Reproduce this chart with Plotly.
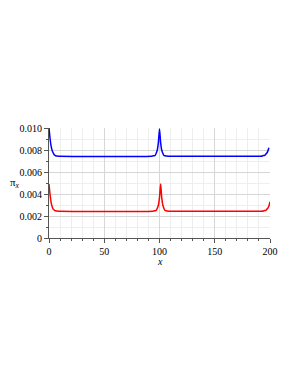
import plotly.graph_objects as go

# Blue series (upper)
blue_x = [0, 1, 2, 3, 4, 5, 6, 7, 9, 93, 95, 96, 97, 98, 99, 100, 101, 102, 103, 104, 105, 106, 108, 191, 193, 194, 195, 196, 197, 198, 199]
blue_y = [0.0100, 0.0090, 0.0083, 0.0079, 0.0077, 0.00755, 0.00748, 0.00745, 0.00744, 0.00744, 0.00748, 0.0075, 0.0077,
          0.0080, 0.0087, 0.0099, 0.0087, 0.0080, 0.0077, 0.0075, 0.00748, 0.00745, 0.00744, 0.00744, 0.00746, 0.0075,
          0.0075, 0.0076, 0.0077, 0.0079, 0.0082]

# Red series (lower)
red_x = [0, 1, 2, 3, 4, 5, 6, 7, 9, 94, 96, 97, 98, 99, 100, 101, 102, 103, 104, 105, 106, 107, 109, 192, 194, 195, 196, 197, 198, 199, 200]
red_y = [0.0049, 0.0039, 0.0032, 0.0028, 0.0026, 0.00252, 0.00248, 0.00245, 0.00244, 0.00244, 0.00248, 0.0025, 0.0027,
         0.0030, 0.0037, 0.0049, 0.0037, 0.0030, 0.0027, 0.0025, 0.00248, 0.00245, 0.00244, 0.00244, 0.00246, 0.0025,
         0.0025, 0.0026, 0.0027, 0.0029, 0.0033]

y_tickvals = [0, 0.002, 0.004, 0.006, 0.008, 0.010]
y_ticktext = ["0", "0.002", "0.004", "0.006", "0.008", "0.010"]
x_tickvals = [0, 50, 100, 150, 200]
x_ticktext = ["0", "50", "100", "150", "200"]

font_family = "Times New Roman, Liberation Serif, DejaVu Serif, serif"

fig = go.Figure()
fig.add_trace(go.Scatter(x=blue_x, y=blue_y, mode="lines", line_shape="spline",
                         line=dict(color="rgb(0,0,255)", width=1.5, smoothing=0.6), showlegend=False))
fig.add_trace(go.Scatter(x=red_x, y=red_y, mode="lines", line_shape="spline",
                         line=dict(color="rgb(255,0,0)", width=1.5, smoothing=0.6), showlegend=False))

fig.update_layout(
    width=290, height=377,
    margin=dict(l=41, r=28, t=120, b=147, autoexpand=False),
    paper_bgcolor="white", plot_bgcolor="white",
    font=dict(family=font_family, size=10, color="black"),
    xaxis=dict(
        range=[0, 200], tickvals=x_tickvals, ticktext=x_ticktext,
        showgrid=True, gridcolor="#d6d6d6", gridwidth=1,
        showline=True, linecolor="#555555", linewidth=1,
        ticks="outside", ticklen=4, tickcolor="#555555",
        zeroline=False, automargin=False,
        minor=dict(dtick=10, showgrid=True, gridcolor="#eeeeee", ticks="outside", ticklen=2, tickcolor="#555555"),
        tickfont=dict(size=10, family=font_family, color="black"),
    ),
    yaxis=dict(
        range=[0, 0.010], tickvals=y_tickvals, ticktext=y_ticktext,
        showgrid=True, gridcolor="#d6d6d6", gridwidth=1,
        showline=True, linecolor="#555555", linewidth=1,
        ticks="outside", ticklen=4, tickcolor="#555555",
        zeroline=False, automargin=False,
        minor=dict(dtick=0.001, showgrid=True, gridcolor="#eeeeee", ticks="outside", ticklen=2, tickcolor="#555555"),
        tickfont=dict(size=10, family=font_family, color="black"),
    ),
    annotations=[
        dict(text="π<sub><i>x</i></sub>", xref="paper", yref="paper",
             x=-0.12, y=0.5, xanchor="right", yanchor="middle",
             showarrow=False, font=dict(size=11, family=font_family, color="black")),
        dict(text="<i>x</i>", xref="paper", yref="paper",
             x=0.5, y=-0.215, xanchor="center", yanchor="middle",
             showarrow=False, font=dict(size=10, family=font_family, color="black")),
    ],
)

fig.write_html("out.html")
